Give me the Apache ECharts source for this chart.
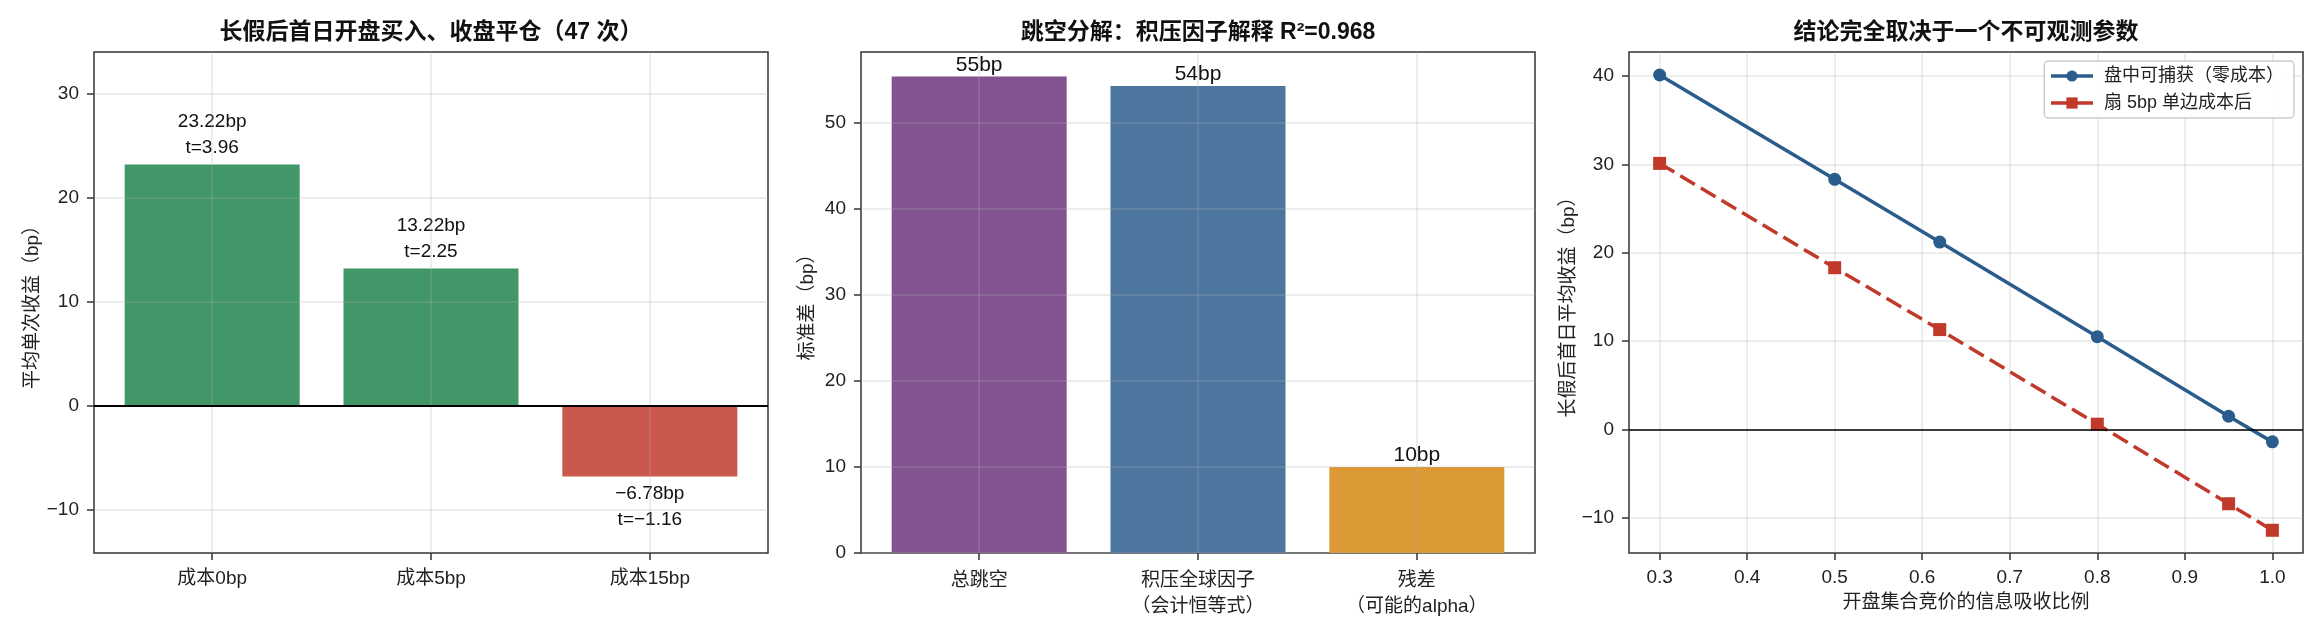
<!DOCTYPE html>
<html>
<head>
<meta charset="utf-8">
<script src="https://cdn.jsdelivr.net/npm/echarts@6/dist/echarts.min.js"></script>
<style>
  html, body { margin: 0; padding: 0; background: #fff; }
  #main { width: 2324px; height: 644px; }
</style>
</head>
<body>
<div id="main"></div>
<script>
// panel 1: trade after long holidays
var costLabels = ['成本0bp', '成本5bp', '成本15bp'];
var meanRet = [23.22, 13.22, -6.78];
var tStats = [3.96, 2.25, -1.16];

// panel 2: gap decomposition
var gapParts = ['总跳空', '积压全球因子\n（会计恒等式）', '残差\n（可能的alpha）'];
var gapStd = [55.4, 54.3, 10.0];

// panel 3: sensitivity to absorption ratio
var absorbRatio = [0.3, 0.5, 0.62, 0.8, 0.95, 1.0];
var retZeroCost = [40.1, 28.3, 21.2, 10.5, 1.5, -1.4];
var retAfterCost = [30.1, 18.3, 11.3, 0.6, -8.4, -11.4];

var yTicks1 = [-10, 0, 10, 20, 30];
var yTicks2 = [0, 10, 20, 30, 40, 50];
var yTicks3 = [-10, 0, 10, 20, 30, 40];
var xTicks3 = [0.3, 0.4, 0.5, 0.6, 0.7, 0.8, 0.9, 1.0];

var FONT = "'Liberation Sans', 'Noto Sans CJK SC', sans-serif";
var green = '#419768', red = '#CB584C';
var gapColors = ['#835391', '#4C769E', '#DB9A36'];

function minus(v) {
  return String(v).replace('-', '\u2212');
}

var chart = echarts.init(document.getElementById('main'));

var grids = [
  { left: 94, top: 52, width: 674, height: 501 },
  { left: 861, top: 52, width: 674, height: 501 },
  { left: 1629, top: 52, width: 674, height: 501 }
];
grids.forEach(function (g) {
  g.show = true;
  g.borderColor = '#333';
  g.borderWidth = 1.5;
  g.backgroundColor = 'transparent';
});

var gridLine = { show: true, lineStyle: { color: 'rgba(176,176,176,0.3)', width: 1.5 } };
var tickStyle = { show: true, inside: false, length: 7, lineStyle: { color: '#333', width: 1.5 } };
var labelStyle = { color: '#222', fontSize: 19, fontFamily: FONT };
var nameStyle = { color: '#222', fontSize: 19, fontFamily: FONT };

function catAxis(idx, names, lineH) {
  return {
    type: 'value', gridIndex: idx, min: -0.54, max: 2.54, z: 3,
    axisLine: { show: false, onZero: false },
    axisTick: Object.assign({ customValues: [0, 1, 2] }, tickStyle),
    axisLabel: Object.assign({
      customValues: [0, 1, 2], margin: 15, lineHeight: lineH,
      formatter: function (v) { return names[Math.round(v)]; }
    }, labelStyle),
    splitLine: gridLine
  };
}

function valAxis(idx, min, max, ticks, name, gap, z) {
  return {
    type: 'value', gridIndex: idx, min: min, max: max, z: z,
    name: name, nameLocation: 'middle', nameGap: gap, nameRotate: 90,
    nameTextStyle: nameStyle,
    axisLine: { show: false, onZero: false },
    axisTick: Object.assign({ customValues: ticks }, tickStyle),
    axisLabel: Object.assign({ customValues: ticks, margin: 15, formatter: minus }, labelStyle),
    splitLine: gridLine
  };
}

var titleStyle = { color: '#111', fontSize: 23, fontWeight: 'bold', fontFamily: FONT };

var option = {
  animation: false,
  backgroundColor: '#fff',
  title: [
    { text: '长假后首日开盘买入、收盘平仓（47 次）', left: 431, top: 21, textAlign: 'center', padding: 0, textStyle: titleStyle },
    { text: '跳空分解：积压因子解释 R²=0.968', left: 1198, top: 21, textAlign: 'center', padding: 0, textStyle: titleStyle },
    { text: '结论完全取决于一个不可观测参数', left: 1966, top: 21, textAlign: 'center', padding: 0, textStyle: titleStyle }
  ],
  legend: {
    orient: 'vertical',
    right: 30, top: 61,
    padding: [6, 10, 6, 5],
    itemGap: 9,
    itemWidth: 42, itemHeight: 14,
    borderColor: '#cccccc', borderWidth: 1.5, borderRadius: 4,
    backgroundColor: 'rgba(255,255,255,0.85)',
    lineStyle: { type: 'solid', width: 3.5 },
    textStyle: { color: '#222', fontSize: 18, fontFamily: FONT, lineHeight: 18, padding: [0, 0, 0, 6] },
    data: ['盘中可捕获（零成本）', '扇 5bp 单边成本后']
  },
  grid: grids,
  xAxis: [
    catAxis(0, costLabels, 22),
    catAxis(1, gapParts, 26),
    {
      type: 'value', gridIndex: 2, min: 0.265, max: 1.035,
      name: '开盘集合竞价的信息吸收比例', nameLocation: 'middle', nameGap: 40,
      nameTextStyle: nameStyle,
      axisLine: { show: false, onZero: false },
      axisTick: Object.assign({ customValues: xTicks3 }, tickStyle),
      axisLabel: Object.assign({
        customValues: xTicks3, margin: 15,
        formatter: function (v) { return v.toFixed(1); }
      }, labelStyle),
      splitLine: gridLine
    }
  ],
  yAxis: [
    valAxis(0, -14.13, 34.04, yTicks1, '平均单次收益（bp）', 52, 3),
    valAxis(1, 0, 58.26, yTicks2, '标准差（bp）', 44, 3),
    valAxis(2, -13.97, 42.7, yTicks3, '长假后首日平均收益（bp）', 51, 0)
  ],
  series: [
    {
      type: 'bar', xAxisIndex: 0, yAxisIndex: 0, barWidth: 175,
      data: meanRet.map(function (v, i) {
        return {
          value: [i, v],
          itemStyle: { color: v < 0 ? red : green },
          label: { position: v < 0 ? 'bottom' : 'top' }
        };
      }),
      label: {
        show: true, distance: 4, color: '#111', fontSize: 19, lineHeight: 26, fontFamily: FONT,
        formatter: function (p) {
          return minus(meanRet[p.dataIndex].toFixed(2)) + 'bp\nt=' + minus(tStats[p.dataIndex].toFixed(2));
        }
      },
      markLine: {
        silent: true, symbol: ['none', 'none'], label: { show: false },
        lineStyle: { color: '#000', width: 2, type: 'solid' },
        data: [{ yAxis: 0 }]
      }
    },
    {
      type: 'bar', xAxisIndex: 1, yAxisIndex: 1, barWidth: 175,
      data: gapStd.map(function (v, i) {
        return { value: [i, v], itemStyle: { color: gapColors[i] } };
      }),
      label: {
        show: true, position: 'top', distance: 1, color: '#111', fontSize: 21, fontFamily: FONT,
        formatter: function (p) { return Math.round(gapStd[p.dataIndex]) + 'bp'; }
      }
    },
    {
      name: '盘中可捕获（零成本）',
      type: 'line', xAxisIndex: 2, yAxisIndex: 2,
      data: absorbRatio.map(function (x, i) { return [x, retZeroCost[i]]; }),
      symbol: 'circle', symbolSize: 13,
      lineStyle: { color: '#2B5D8C', width: 3.5 },
      itemStyle: { color: '#2B5D8C' },
      z: 4,
      markLine: {
        silent: true, symbol: ['none', 'none'], label: { show: false },
        lineStyle: { color: '#000', width: 1.5, type: 'solid' },
        data: [{ yAxis: 0 }]
      }
    },
    {
      name: '扇 5bp 单边成本后',
      type: 'line', xAxisIndex: 2, yAxisIndex: 2,
      data: absorbRatio.map(function (x, i) { return [x, retAfterCost[i]]; }),
      symbol: 'rect', symbolSize: 13,
      lineStyle: { color: '#C0392B', width: 3.5, type: [17, 7] },
      itemStyle: { color: '#C0392B' },
      z: 4
    }
  ]
};

chart.setOption(option);
</script>
</body>
</html>
